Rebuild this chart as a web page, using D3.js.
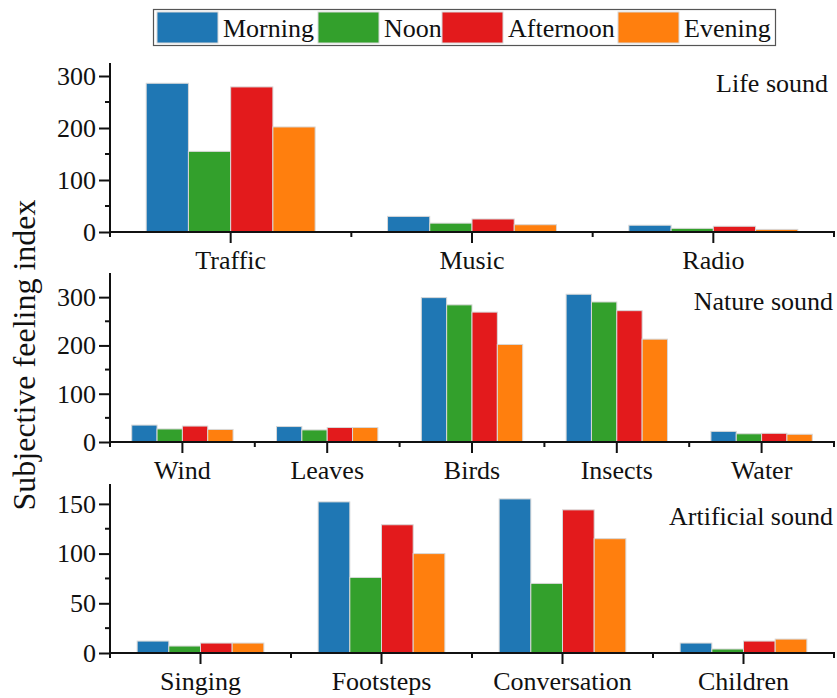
<!DOCTYPE html>
<html><head><meta charset="utf-8">
<script src="https://cdn.jsdelivr.net/npm/d3@7"></script>
</head><body style="margin:0;background:#fff">
<svg id="c" width="837" height="698" style="display:block"></svg>
<script>
const series = ["Morning","Noon","Afternoon","Evening"];
const colors = ["#1f77b4","#33a02c","#e31a1c","#ff7f0e"];

const lifeCats = ["Traffic","Music","Radio"];
const lifeVals = [[286,155,279,202],[30,17,25,14],[13,7,11,5]];
const lifeTicks = [0,100,200,300];

const natureCats = ["Wind","Leaves","Birds","Insects","Water"];
const natureVals = [[35,27,33,26],[32,25,30,30],[299,284,269,202],[306,290,272,213],[22,17,18,16]];
const natureTicks = [0,100,200,300];

const artCats = ["Singing","Footsteps","Conversation","Children"];
const artVals = [[12,7,10,10],[152,76,129,100],[155,70,144,115],[10,4,12,14]];
const artTicks = [0,50,100,150];

const panels = [
  {title:"Life sound", cats:lifeCats, vals:lifeVals, ticks:lifeTicks, max:325, top:63, tx:828, ty:92},
  {title:"Nature sound", cats:natureCats, vals:natureVals, ticks:natureTicks, max:350, top:273, tx:833, ty:310},
  {title:"Artificial sound", cats:artCats, vals:artVals, ticks:artTicks, max:170, top:484, tx:833, ty:525}
];

const svg = d3.select("#c");
const X0 = 110, X1 = 834, H = 169, FS = 26;
function styleText(sel, size){ sel.style("font-family",'"Liberation Serif"').attr("font-size",size).attr("fill","#111"); }

panels.forEach(p => {
  const g = svg.append("g");
  const y = d3.scaleLinear().domain([0,p.max]).range([p.top+H, p.top]);
  const x = d3.scaleBand().domain(p.cats).range([X0,X1]).padding(0);
  const xi = d3.scaleBand().domain(series).range([x.bandwidth()*0.15, x.bandwidth()*0.85]);

  p.cats.forEach((c,ci) => {
    g.selectAll(null).data(p.vals[ci]).join("rect")
      .attr("x",(v,i)=>x(c)+xi(series[i]))
      .attr("width", xi.bandwidth())
      .attr("y", v=>y(v))
      .attr("height", v=>y(0)-y(v))
      .attr("fill",(v,i)=>colors[i])
      .attr("stroke","#d8d8d8").attr("stroke-width",1);
  });

  const step = p.ticks[1]-p.ticks[0];
  const minor = d3.range(step/2, p.max, step).filter(v=>!p.ticks.includes(v));
  const ya = d3.axisLeft(y).tickValues(p.ticks).tickSize(11).tickPadding(3).tickFormat(d3.format("d"));
  const yg = g.append("g").attr("transform",`translate(${X0},0)`).call(ya);
  yg.attr("font-family",null).attr("font-size",null);
  yg.select(".domain").remove();
  yg.selectAll("line").attr("stroke","#111").attr("stroke-width",2);
  styleText(yg.selectAll("text"), FS);
  g.selectAll(null).data(minor).join("line")
    .attr("x1",X0-5).attr("x2",X0).attr("y1",d=>y(d)).attr("y2",d=>y(d))
    .attr("stroke","#111").attr("stroke-width",2);
  g.append("line").attr("x1",X0).attr("x2",X0).attr("y1",p.top).attr("y2",y(0)+5)
    .attr("stroke","#111").attr("stroke-width",2);

  const xa = d3.axisBottom(x).tickSize(11).tickPadding(8);
  const xg = g.append("g").attr("transform",`translate(0,${y(0)})`).call(xa);
  xg.attr("font-family",null).attr("font-size",null);
  xg.select(".domain").remove();
  xg.selectAll("line").attr("stroke","#111").attr("stroke-width",2);
  styleText(xg.selectAll("text"), FS);
  const bounds = p.cats.map(c=>x(c)).concat([X1]);
  g.selectAll(null).data(bounds).join("line")
    .attr("x1",d=>d).attr("x2",d=>d).attr("y1",y(0)).attr("y2",y(0)+5)
    .attr("stroke","#111").attr("stroke-width",2);
  g.append("line").attr("x1",X0-1).attr("x2",X1+1).attr("y1",y(0)).attr("y2",y(0))
    .attr("stroke","#111").attr("stroke-width",2);

  styleText(g.append("text").attr("x",p.tx).attr("y",p.ty).attr("text-anchor","end").text(p.title), FS);
});

styleText(svg.append("text").attr("transform","translate(35,355) rotate(-90)")
  .attr("text-anchor","middle").text("Subjective feeling index"), 32);

const lg = svg.append("g");
lg.append("rect").attr("x",153.5).attr("y",9.5).attr("width",622).attr("height",36)
  .attr("fill","#fff").attr("stroke","#555").attr("stroke-width",1.2);
const legX = [157,318,442,618];
series.forEach((s,i)=>{
  lg.append("rect").attr("x",legX[i]).attr("y",12).attr("width",61).attr("height",31)
    .attr("fill",colors[i]).attr("stroke","#d8d8d8");
  styleText(lg.append("text").attr("x",legX[i]+66).attr("y",37).text(s), FS);
});
</script>
</body></html>
